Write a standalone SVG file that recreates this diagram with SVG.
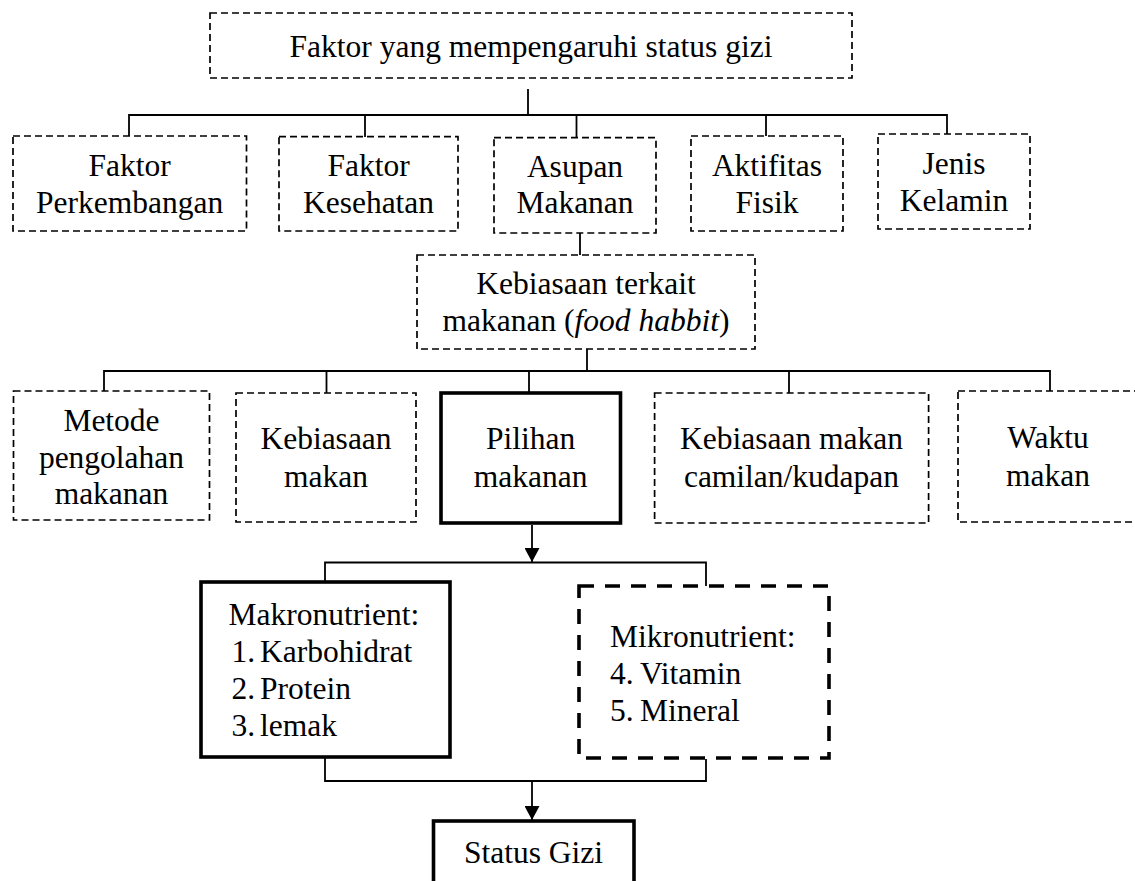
<svg xmlns="http://www.w3.org/2000/svg" width="1135" height="881" viewBox="0 0 1135 881">
<defs>
<style>
text{font-family:"Liberation Serif","Times New Roman",serif;font-size:31.5px;fill:#000;text-anchor:middle}
.l{text-anchor:start}
.d{fill:none;stroke:#000;stroke-width:1.7;stroke-dasharray:7 4}
.s{fill:none;stroke:#000;stroke-width:3.6}
.sd{fill:none;stroke:#000;stroke-width:3.6;stroke-dasharray:15 11}
.c{fill:none;stroke:#000;stroke-width:1.8}
</style>
<marker id="ah" viewBox="0 0 14 15" refX="14" refY="7.5" markerWidth="14" markerHeight="15" markerUnits="userSpaceOnUse" orient="auto">
<path d="M0,0 L14,7.5 L0,15 Z" fill="#000"/>
</marker>
</defs>
<rect width="1135" height="881" fill="#fff"/>

<g id="connectors">
<path class="c" d="M528,89 V115 M129,136 V115 H947 V134 M365,115 V137 M576.5,115 V138 M766,115 V136"/>
<path class="c" d="M580,233 V255"/>
<path class="c" d="M587,349 V371 M104,391 V371 H1050 V391 M326.5,371 V393 M529,371 V393 M789,371 V393"/>
<path class="c" d="M532,525 V562" marker-end="url(#ah)"/>
<path class="c" d="M325,582 V562.5 H706 V586"/>
<path class="c" d="M325,757 V781 H706 V759"/>
<path class="c" d="M532,781 V820" marker-end="url(#ah)"/>
</g>

<g id="n-root">
<rect class="d" x="210" y="13" width="642" height="65"/>
<text x="531" y="57">Faktor yang mempengaruhi status gizi</text>
</g>

<g id="n-perkembangan">
<rect class="d" x="13" y="136" width="233.5" height="95"/>
<text x="129.7" y="176">Faktor</text>
<text x="129.7" y="212.5">Perkembangan</text>
</g>
<g id="n-kesehatan">
<rect class="d" x="279" y="136.7" width="179" height="94.3"/>
<text x="368.5" y="176">Faktor</text>
<text x="368.5" y="212.5">Kesehatan</text>
</g>
<g id="n-asupan">
<rect class="d" x="494" y="137.7" width="162" height="95.3"/>
<text x="575" y="176.5">Asupan</text>
<text x="575" y="213">Makanan</text>
</g>
<g id="n-aktifitas">
<rect class="d" x="691" y="136" width="152" height="95"/>
<text x="767" y="176">Aktifitas</text>
<text x="767" y="212.5">Fisik</text>
</g>
<g id="n-jenis">
<rect class="d" x="878" y="134" width="152" height="95"/>
<text x="954" y="174">Jenis</text>
<text x="954" y="210.5">Kelamin</text>
</g>

<g id="n-foodhabit">
<rect class="d" x="417" y="255" width="338" height="94"/>
<text x="586" y="294">Kebiasaan terkait</text>
<text x="586" y="331">makanan (<tspan font-style="italic">food habbit</tspan>)</text>
</g>

<g id="n-metode">
<rect class="d" x="13.5" y="391" width="196" height="129"/>
<text x="111.5" y="431">Metode</text>
<text x="111.5" y="467.5">pengolahan</text>
<text x="111.5" y="504">makanan</text>
</g>
<g id="n-kebiasaan">
<rect class="d" x="236" y="393" width="180" height="129"/>
<text x="326" y="449">Kebiasaan</text>
<text x="326" y="486.5">makan</text>
</g>
<g id="n-pilihan">
<rect class="s" x="441" y="393" width="179.5" height="130"/>
<text x="530.7" y="449">Pilihan</text>
<text x="530.7" y="486.5">makanan</text>
</g>
<g id="n-camilan">
<rect class="d" x="654.6" y="393" width="274" height="130"/>
<text x="791.5" y="449">Kebiasaan makan</text>
<text x="791.5" y="486.5">camilan/kudapan</text>
</g>
<g id="n-waktu">
<rect class="d" x="958" y="391" width="181" height="131"/>
<text x="1048" y="448">Waktu</text>
<text x="1048" y="486">makan</text>
</g>

<g id="n-makro">
<rect class="s" x="201" y="582" width="249" height="175"/>
<text class="l" x="228.6" y="625">Makronutrient:</text>
<text class="l" x="231.5" y="662">1.</text><text class="l" x="260" y="662">Karbohidrat</text>
<text class="l" x="231.5" y="699">2.</text><text class="l" x="260" y="699">Protein</text>
<text class="l" x="231.5" y="736">3.</text><text class="l" x="260" y="736">lemak</text>
</g>
<g id="n-mikro">
<rect class="sd" x="579" y="586" width="250" height="172"/>
<text class="l" x="610" y="647">Mikronutrient:</text>
<text class="l" x="610" y="684">4.</text><text class="l" x="640" y="684">Vitamin</text>
<text class="l" x="610" y="721">5.</text><text class="l" x="640" y="721">Mineral</text>
</g>

<g id="n-status">
<rect class="s" x="433.5" y="821" width="200.5" height="80"/>
<text x="533.5" y="863">Status Gizi</text>
</g>
</svg>
